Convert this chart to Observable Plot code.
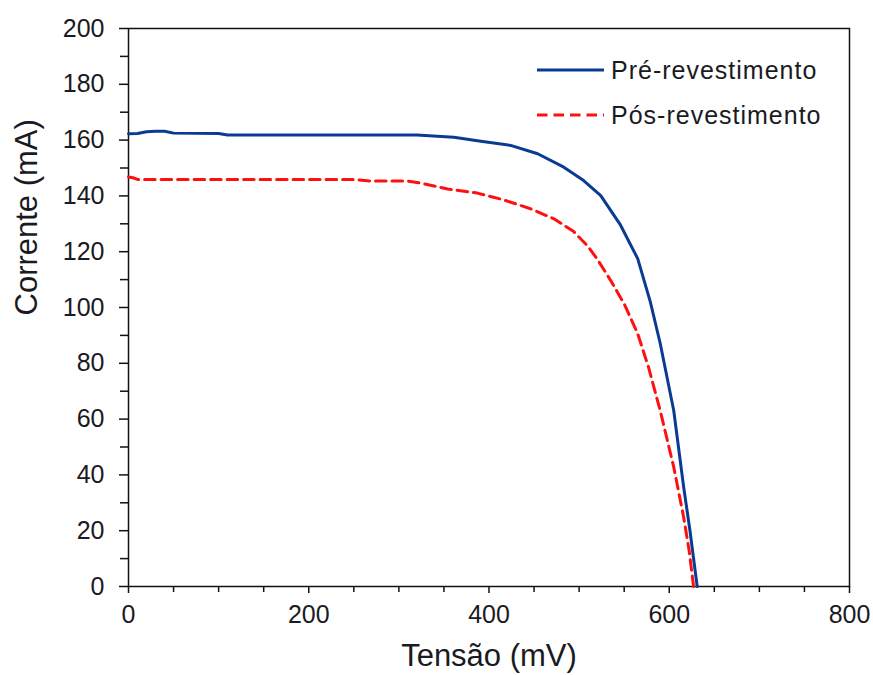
<!DOCTYPE html>
<html>
<head>
<meta charset="utf-8">
<script src="https://cdn.jsdelivr.net/npm/d3@7"></script>
<script src="https://cdn.jsdelivr.net/npm/@observablehq/plot@0.6"></script>
<style>
  html, body { margin: 0; padding: 0; background: #fff; }
  #wrap { position: relative; width: 873px; height: 675px; font-family: "Liberation Sans", Arial, sans-serif; }
  .leg { position: absolute; display: flex; align-items: center; font-size: 25px; letter-spacing: 1px; color: #1a1a22; }
  .leg svg { margin-right: 7px; }
</style>
</head>
<body>
<div id="wrap"></div>
<script>
// Series: Pré-revestimento (before coating)
const preV = [0, 10, 20, 30, 40, 50, 100, 110, 200, 320, 361, 391, 424, 454, 483, 505, 524, 546, 565, 579, 590, 605, 616, 623, 631];
const preI = [162.3, 162.4, 163, 163.2, 163.2, 162.5, 162.4, 161.8, 161.8, 161.8, 161, 159.6, 158.1, 155.1, 150.3, 145.5, 140.1, 129.5, 117.5, 102, 87.1, 63, 35.6, 20, 0];
// Series: Pós-revestimento (after coating)
const postV = [0, 5, 10, 100, 250, 270, 310, 324, 354, 387, 416, 446, 472, 494, 509, 520, 535, 550, 565, 577, 590, 605, 616, 622, 627];
const postI = [146.8, 146.5, 145.9, 145.9, 145.9, 145.3, 145.3, 144.6, 142.5, 141, 138.6, 135.4, 131.8, 127.2, 122.2, 117.4, 109.7, 101.3, 90.6, 78.6, 63, 42.8, 24.8, 13, 0];

const seriesNames = ["Pré-revestimento", "Pós-revestimento"];
const xTicks = [0, 200, 400, 600, 800];
const xMinor = [50, 100, 150, 250, 300, 350, 450, 500, 550, 650, 700, 750];
const yTicks = [0, 20, 40, 60, 80, 100, 120, 140, 160, 180, 200];
const yMinor = [10, 30, 50, 70, 90, 110, 130, 150, 170, 190];
const xTitle = "Tensão (mV)";
const yTitle = "Corrente (mA)";

const blue = "#0b3a93";
const red = "#ff1010";

const pre = preV.map((v, i) => ({v, c: preI[i]}));
const post = postV.map((v, i) => ({v, c: postI[i]}));

const font = '"Liberation Sans", Arial, sans-serif';

const chart = Plot.plot({
  width: 873,
  height: 675,
  marginLeft: 128,
  marginRight: 24,
  marginTop: 28,
  marginBottom: 89,
  x: {domain: [0, 800]},
  y: {domain: [0, 200]},
  style: {fontFamily: font, fontSize: "25px", color: "#1a1a22", background: "#fff", overflow: "visible"},
  marks: [
    Plot.frame({stroke: "#111", strokeWidth: 1.5}),
    Plot.axisX({ticks: xTicks, tickSize: 7, tickPadding: 12, label: null, stroke: "#111", strokeWidth: 1.5, fontSize: 25}),
    Plot.axisX({ticks: xMinor, tickSize: 6, text: null, label: null, stroke: "#111", strokeWidth: 1.5}),
    Plot.axisY({ticks: yTicks, tickSize: 9, tickPadding: 15, label: null, stroke: "#111", strokeWidth: 1.5, fontSize: 25}),
    Plot.axisY({ticks: yMinor, tickSize: 8, text: null, label: null, stroke: "#111", strokeWidth: 1.5}),
    Plot.line(pre, {x: "v", y: "c", stroke: blue, strokeWidth: 3, curve: "linear"}),
    Plot.line(post, {x: "v", y: "c", stroke: red, strokeWidth: 3, strokeDasharray: "10.5,6", curve: "linear"}),
    Plot.text([xTitle], {frameAnchor: "bottom", dy: 57, lineAnchor: "top", fontSize: 31, fill: "#1a1a22"}),
    Plot.text([yTitle], {frameAnchor: "left", dx: -101, dy: 8, rotate: -90, fontSize: 31, fill: "#1a1a22"})
  ]
});

const wrap = document.getElementById("wrap");
wrap.appendChild(chart);

// Legend (HTML overlay)
const legendItems = [
  {name: seriesNames[0], color: blue, dash: null, top: 55},
  {name: seriesNames[1], color: red, dash: "10.5,6", top: 100}
];
for (const it of legendItems) {
  const d = document.createElement("div");
  d.className = "leg";
  d.style.left = "537px";
  d.style.top = it.top + "px";
  d.innerHTML = `<svg width="67" height="30"><line x1="0" x2="67" y1="15" y2="15" stroke="${it.color}" stroke-width="3" ${it.dash ? `stroke-dasharray="${it.dash}"` : ""}/></svg><span>${it.name}</span>`;
  wrap.appendChild(d);
}
</script>
</body>
</html>
